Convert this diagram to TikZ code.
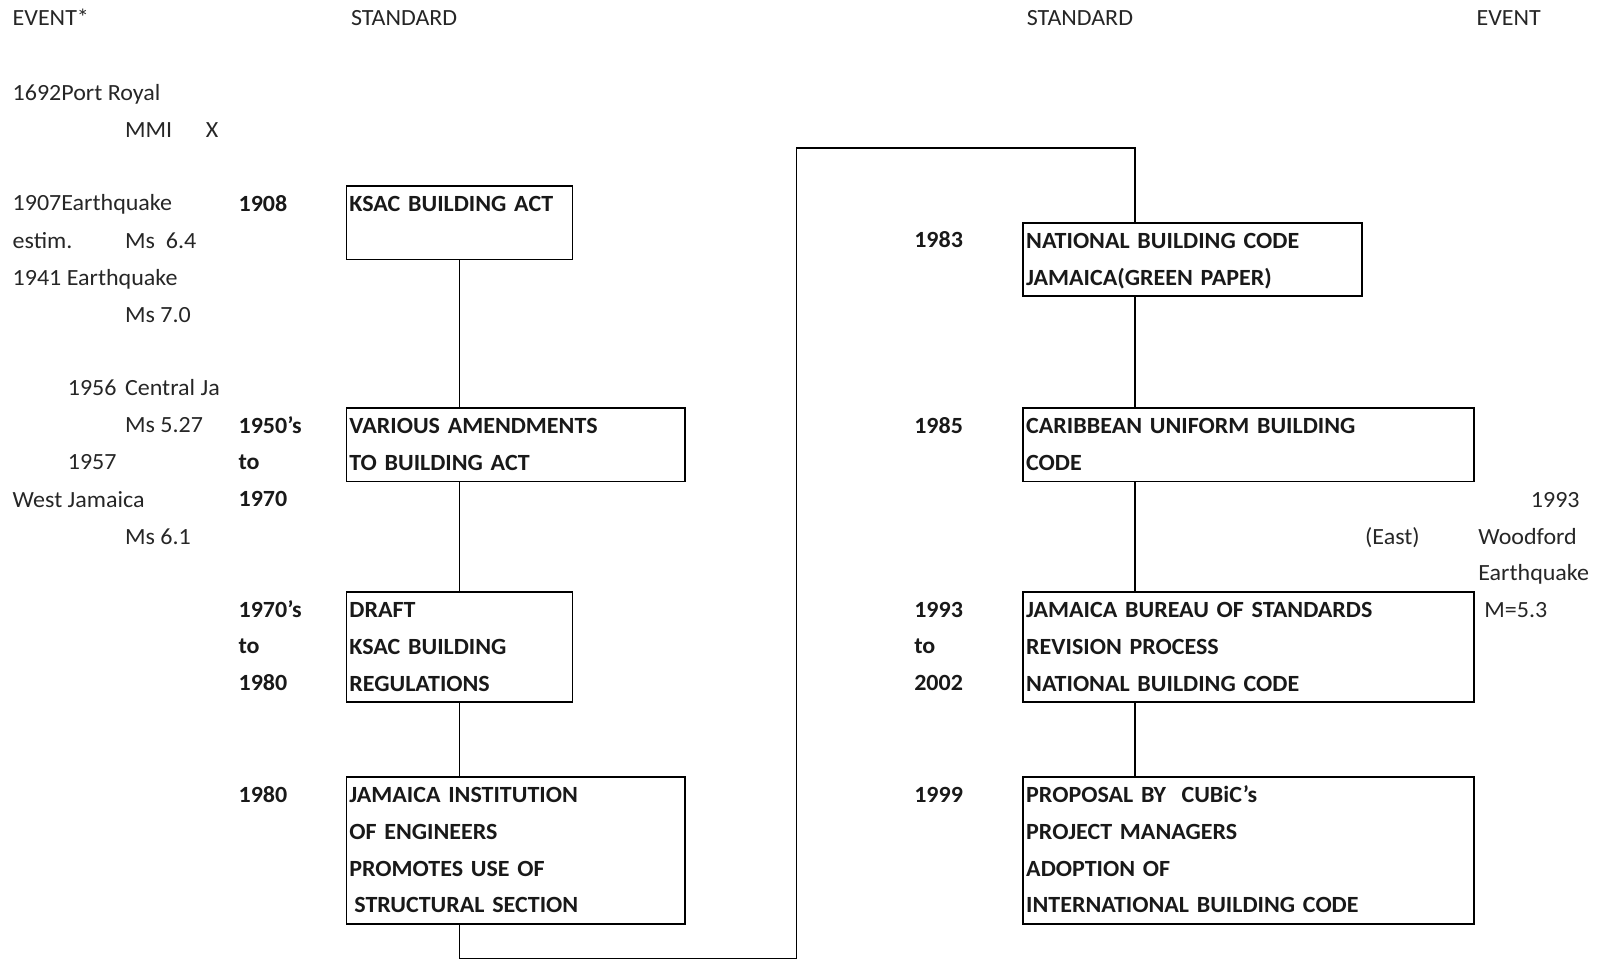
\documentclass[tikz,border=0pt]{standalone}
\usepackage{fontspec}
\setmainfont{Carlito}[FakeStretch=1.035]
\usepackage{tikz}
\usetikzlibrary{positioning}

\begin{document}
\begin{tikzpicture}[x=0.5pt, y=-0.5pt,
    every node/.style={font=\fontsize{11.6}{18.4}\selectfont, inner sep=0pt, text=black!85},
    evt/.style={anchor=west, text height=12.88pt, text depth=5.52pt},
    yr/.style={anchor=north west, align=left, text width=40pt, font=\fontsize{11.6}{18.4}\selectfont\bfseries, text=black!90,
      execute at begin node=\strut, execute at end node=\strut},
    stdbox/.style={draw, line width=0.9pt, anchor=north west, align=left, inner xsep=1.5pt, inner ysep=0pt,
      font=\fontsize{11.6}{18.4}\selectfont\bfseries, text=black!90,
      execute at begin node=\strut, execute at end node=\strut},
    spine/.style={line width=0.8pt}]
    \useasboundingbox (0,0) rectangle (1603,960);

    % column heads
    \node[evt] (hevl) at (12.3,18.4) {EVENT*};
    \node[evt] (hstl) at (350.6,18.4) {STANDARD};
    \node[evt] (hstr) at (1026.4,18.4) {STANDARD};
    \node[evt] (hevr) at (1476.2,18.4) {EVENT};

    % events, left side
    \node[evt] (ev1692) at (12.3,93.0) {1692Port Royal};
    \node[evt] (mmi) at (124.7,129.8) {MMI};
    \node[evt] (mmix) at (205.5,129.8) {X};
    \node[evt] (ev1907) at (12.3,203.4) {1907Earthquake};
    \node[evt] (estim) at (12.3,241.3) {estim.};
    \node[evt] (ms64) at (124.7,241.3) {Ms~~6.4};
    \node[evt] (ev1941) at (12.3,278.1) {1941 Earthquake};
    \node[evt] (ms70) at (124.7,314.9) {Ms 7.0};
    \node[evt] (ev1956) at (67.5,388.5) {1956};
    \node[evt] (central) at (124.7,388.5) {Central Ja};
    \node[evt] (ms527) at (124.7,425.3) {Ms 5.27};
    \node[evt] (ev1957) at (67.5,462.1) {1957};
    \node[evt] (westja) at (12.3,499.9) {West Jamaica};
    \node[evt] (ms61) at (124.7,536.7) {Ms 6.1};

    % standards, left column
    \node[stdbox, text width=110pt] (ksac) at (345.5,185) {KSAC BUILDING ACT\\\mbox{}};
    \node[stdbox, text width=166.2pt] (amend) at (345.5,406.9) {VARIOUS AMENDMENTS\\TO BUILDING ACT};
    \node[stdbox, text width=110pt] (draft) at (345.5,590.9) {DRAFT\\KSAC BUILDING\\REGULATIONS};
    \node[stdbox, text width=166.2pt] (jie) at (345.5,775.9) {JAMAICA INSTITUTION\\OF ENGINEERS\\PROMOTES USE OF\\\hspace{2.5pt}STRUCTURAL SECTION};

    \node[yr] (y1908) at (238.2,185) {1908};
    \node[yr] (y1950) at (238.2,406.9) {1950's\\to\\1970};
    \node[yr] (y1970) at (238.2,590.9) {1970's\\to\\1980};
    \node[yr] (y1980) at (238.2,775.9) {1980};

    % standards, right column
    \node[stdbox, text width=166.2pt] (nbc) at (1022.3,221.8) {NATIONAL BUILDING CODE\\JAMAICA(GREEN PAPER)};
    \node[stdbox, text width=222.4pt] (cubc) at (1022.3,406.9) {CARIBBEAN UNIFORM BUILDING\\CODE};
    \node[stdbox, text width=222.4pt] (jbs) at (1022.3,590.9) {JAMAICA BUREAU OF STANDARDS\\REVISION PROCESS\\NATIONAL BUILDING CODE};
    \node[stdbox, text width=222.4pt] (ibc) at (1022.3,775.9) {PROPOSAL BY~~CUBiC's\\PROJECT MANAGERS\\ADOPTION OF\\INTERNATIONAL BUILDING CODE};

    \node[yr] (y1983) at (913.9,221.8) {1983};
    \node[yr] (y1985) at (913.9,406.9) {1985};
    \node[yr] (y1993) at (913.9,590.9) {1993\\to\\2002};
    \node[yr] (y1999) at (913.9,775.9) {1999};

    % events, right side
    \node[evt, anchor=east] (ev1993) at (1580,499.9) {1993};
    \node[evt] (east) at (1364.8,536.7) {(East)};
    \node[evt] (woodford) at (1478,536.7) {Woodford};
    \node[evt] (quake) at (1478,573.5) {Earthquake};
    \node[evt] (m53) at (1484,610.3) {M=5.3};

    % the line joining the standards
    \coordinate (lowturn) at (796.4,958.6);
    \coordinate (highturn) at (796.4,148.2);
    \coordinate (rspine) at (1134.8,148.2);
    \draw[spine] (ksac.south) -- (ksac.south |- amend.north);
    \draw[spine] (ksac.south |- amend.south) -- (draft.north);
    \draw[spine] (draft.south) -- (draft.south |- jie.north);
    \draw[spine] (draft.south |- jie.south) |- (lowturn) -- (highturn) -- (rspine) -- (rspine |- nbc.north);
    \draw[spine] (rspine |- nbc.south) -- (rspine |- cubc.north);
    \draw[spine] (rspine |- cubc.south) -- (rspine |- jbs.north);
    \draw[spine] (rspine |- jbs.south) -- (rspine |- ibc.north);
\end{tikzpicture}
\end{document}
